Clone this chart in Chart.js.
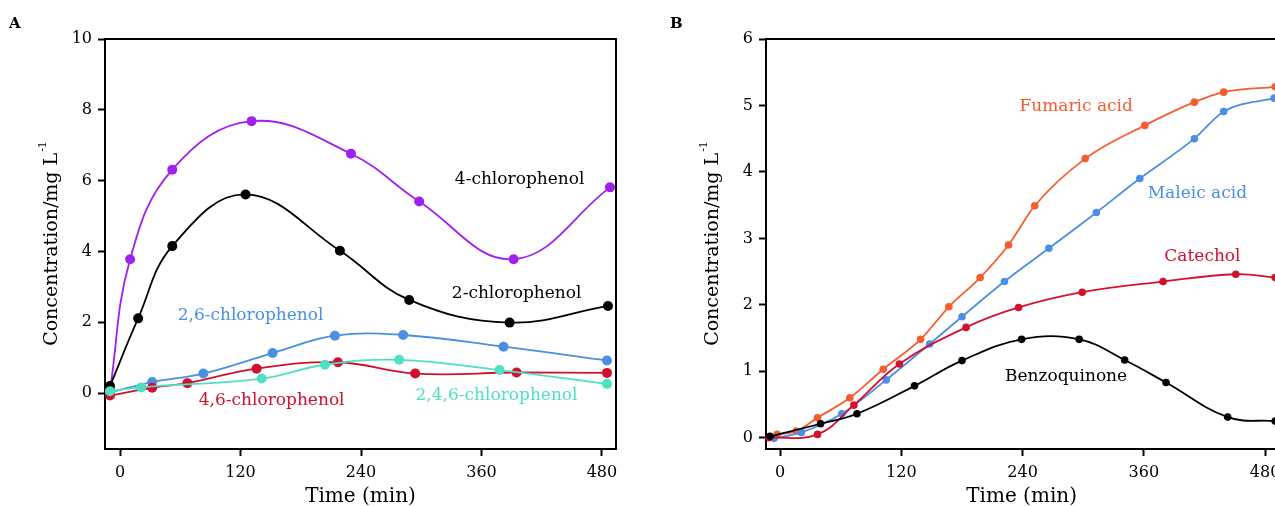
<!DOCTYPE html>
<html>
<head>
<meta charset="utf-8">
<script src="https://cdn.jsdelivr.net/npm/chart.js@4.4.1/dist/chart.umd.min.js"></script>
<style>
  html, body { margin: 0; padding: 0; background: #fff; }
  #wrap { position: relative; width: 1275px; height: 506px; overflow: hidden; }
  .panel { position: absolute; top: 0; height: 506px; }
  #panelA { left: 0; width: 640px; }
  #panelB { left: 640px; width: 641px; }
</style>
</head>
<body>
<div id="wrap">
  <div class="panel" id="panelA"><canvas id="chartA"></canvas></div>
  <div class="panel" id="panelB"><canvas id="chartB"></canvas></div>
</div>
<script>
// ---- panel A : chlorinated phenols ----
const xTicks = [0, 120, 240, 360, 480];
const yTicksA = [0, 2, 4, 6, 8, 10];
const yTicksB = [0, 1, 2, 3, 4, 5, 6];

const cp4Time = [-10, 10, 52, 131, 230, 298, 392, 488];
const cp4Conc = [0.08, 3.78, 6.31, 7.68, 6.76, 5.41, 3.78, 5.81];

const cp2Time = [-10, 18, 52, 125, 219, 288, 388, 486];
const cp2Conc = [0.2, 2.11, 4.15, 5.61, 4.02, 2.63, 1.99, 2.46];

const cp26Time = [-10, 32, 83, 152, 214, 282, 382, 485];
const cp26Conc = [0.02, 0.31, 0.55, 1.13, 1.62, 1.64, 1.31, 0.92];

const cp46Time = [-10, 32, 67, 136, 217, 294, 395, 485];
const cp46Conc = [-0.07, 0.15, 0.28, 0.69, 0.87, 0.55, 0.58, 0.57];

const cp246Time = [-10, 21, 141, 204, 278, 378, 485];
const cp246Conc = [0.05, 0.16, 0.41, 0.8, 0.94, 0.65, 0.26];

// ---- panel B : ring-opening products ----
const fumTime = [-3, 16, 37, 69, 102, 139, 167, 198, 226, 252, 302, 361, 410, 439, 490];
const fumConc = [0.05, 0.1, 0.3, 0.6, 1.03, 1.48, 1.97, 2.41, 2.9, 3.49, 4.2, 4.7, 5.05, 5.2, 5.28];

const malTime = [-6, 21, 61, 105, 148, 180, 222, 266, 313, 356, 410, 439, 489];
const malConc = [-0.01, 0.08, 0.36, 0.87, 1.41, 1.82, 2.35, 2.85, 3.39, 3.9, 4.5, 4.91, 5.11];

const catTime = [-11, 37, 73, 118, 184, 236, 299, 379, 451, 490];
const catConc = [0.0, 0.05, 0.49, 1.11, 1.66, 1.96, 2.19, 2.35, 2.46, 2.41];

const bzqTime = [-10, 40, 76, 133, 180, 239, 296, 341, 382, 443, 490];
const bzqConc = [0.02, 0.21, 0.36, 0.78, 1.16, 1.48, 1.48, 1.17, 0.83, 0.31, 0.25];

const serif = "'DejaVu Serif', 'Liberation Serif', serif";
const tickFont = { family: serif, size: 16 };

const pts = (xs, ys) => xs.map((x, i) => ({ x: x, y: ys[i] }));

const series = (label, xs, ys, color, r, mode) => ({
  label: label,
  data: pts(xs, ys),
  borderColor: color,
  backgroundColor: color,
  borderWidth: 1.8,
  pointRadius: r,
  pointHoverRadius: r,
  pointBorderWidth: 0,
  tension: 0.4,
  cubicInterpolationMode: mode || "default",
  clip: false
});

// draws top/right frame, panel letter, axis titles and curve labels
const decorations = {
  id: "decorations",
  beforeDatasetsDraw(chart, args, opts) {
    const { ctx, chartArea: a } = chart;
    ctx.save();
    ctx.strokeStyle = "#000";
    ctx.lineWidth = 2;
    ctx.beginPath();
    ctx.moveTo(a.left, a.top);
    ctx.lineTo(a.right, a.top);
    ctx.lineTo(a.right, a.bottom);
    ctx.stroke();
    ctx.restore();
  },
  afterDraw(chart, args, opts) {
    const { ctx, chartArea: a, scales } = chart;
    ctx.save();
    ctx.fillStyle = "#000";
    ctx.font = "bold 15px " + serif;
    ctx.textBaseline = "middle";
    ctx.textAlign = "left";
    ctx.fillText(opts.letter, opts.letterX, 24);

    // x title
    ctx.font = "20px " + serif;
    ctx.textAlign = "center";
    ctx.fillText("Time (min)", (a.left + a.right) / 2, a.bottom + 48);

    // y title with superscript
    const main = "Concentration/mg L";
    ctx.font = "19px " + serif;
    const w1 = ctx.measureText(main).width;
    ctx.font = "11px " + serif;
    const w2 = ctx.measureText("-1").width;
    ctx.translate(a.left - 53, (a.top + a.bottom) / 2);
    ctx.rotate(-Math.PI / 2);
    const start = -(w1 + w2) / 2;
    ctx.textAlign = "left";
    ctx.font = "19px " + serif;
    ctx.fillText(main, start, 0);
    ctx.font = "11px " + serif;
    ctx.fillText("-1", start + w1 + 1, -9);
    ctx.setTransform(1, 0, 0, 1, 0, 0);
    ctx.restore();

    ctx.save();
    ctx.font = "17px " + serif;
    ctx.textAlign = "center";
    ctx.textBaseline = "middle";
    opts.labels.forEach(l => {
      ctx.fillStyle = l.color;
      ctx.fillText(l.text, scales.x.getPixelForValue(l.x), scales.y.getPixelForValue(l.y));
    });
    ctx.restore();
  }
};

function xAxis(min, max) {
  return {
    type: "linear",
    min: min,
    max: max,
    afterBuildTicks: s => { s.ticks = xTicks.map(v => ({ value: v })); },
    afterFit: s => { s.height = 57; s.paddingLeft = 0; s.paddingRight = 0; },
    grid: { drawOnChartArea: false, tickLength: 7, tickWidth: 2, tickColor: "#000" },
    border: { display: true, color: "#000", width: 2 },
    ticks: { color: "#000", font: tickFont, padding: 7, maxRotation: 0, callback: v => v }
  };
}

function yAxis(min, max, ticks, width) {
  return {
    type: "linear",
    min: min,
    max: max,
    afterBuildTicks: s => { s.ticks = ticks.map(v => ({ value: v })); },
    afterFit: s => { s.width = width; s.paddingTop = 0; s.paddingBottom = 0; },
    grid: { drawOnChartArea: false, tickLength: 7, tickWidth: 2, tickColor: "#000" },
    border: { display: true, color: "#000", width: 2 },
    ticks: { color: "#000", font: tickFont, padding: 6, callback: v => v }
  };
}

const baseOpts = {
  responsive: true,
  maintainAspectRatio: false,
  animation: false,
  events: []
};

new Chart(document.getElementById("chartA"), {
  type: "line",
  data: {
    datasets: [
      series("2,4,6-chlorophenol", cp246Time, cp246Conc, "#4fe0c2", 5),
      series("4,6-chlorophenol", cp46Time, cp46Conc, "#d0102c", 5),
      series("2,6-chlorophenol", cp26Time, cp26Conc, "#4a8fe2", 5),
      series("2-chlorophenol", cp2Time, cp2Conc, "#000000", 5),
      series("4-chlorophenol", cp4Time, cp4Conc, "#a020f0", 5)
    ]
  },
  options: Object.assign({}, baseOpts, {
    layout: { padding: { top: 39, right: 24, left: 0, bottom: 0 } },
    scales: {
      x: xAxis(-15, 494),
      y: yAxis(-1.58, 10, yTicksA, 105)
    },
    plugins: {
      legend: { display: false },
      tooltip: { enabled: false },
      decorations: {
        letter: "A",
        letterX: 9,
        labels: [
          { text: "4-chlorophenol", x: 398, y: 6.02, color: "#000" },
          { text: "2-chlorophenol", x: 395, y: 2.82, color: "#000" },
          { text: "2,6-chlorophenol", x: 130, y: 2.2, color: "#4a8fe2" },
          { text: "4,6-chlorophenol", x: 151, y: -0.2, color: "#d0102c" },
          { text: "2,4,6-chlorophenol", x: 375, y: -0.06, color: "#4fe0c2" }
        ]
      }
    }
  }),
  plugins: [decorations]
});

new Chart(document.getElementById("chartB"), {
  type: "line",
  data: {
    datasets: [
      series("Benzoquinone", bzqTime, bzqConc, "#000000", 3.8),
      series("Catechol", catTime, catConc, "#d4102c", 3.8),
      series("Maleic acid", malTime, malConc, "#4a8fe2", 3.8, "monotone"),
      series("Fumaric acid", fumTime, fumConc, "#f75c2f", 3.8, "monotone")
    ]
  },
  options: Object.assign({}, baseOpts, {
    layout: { padding: { top: 39, right: 0, left: 0, bottom: 0 } },
    scales: {
      x: xAxis(-14, 492),
      y: yAxis(-0.17, 6, yTicksB, 126)
    },
    plugins: {
      legend: { display: false },
      tooltip: { enabled: false },
      decorations: {
        letter: "B",
        letterX: 30,
        labels: [
          { text: "Fumaric acid", x: 293, y: 4.98, color: "#f75c2f" },
          { text: "Maleic acid", x: 413, y: 3.68, color: "#4a8fe2" },
          { text: "Catechol", x: 418, y: 2.72, color: "#d4102c" },
          { text: "Benzoquinone", x: 283, y: 0.92, color: "#000" }
        ]
      }
    }
  }),
  plugins: [decorations]
});
</script>
</body>
</html>
